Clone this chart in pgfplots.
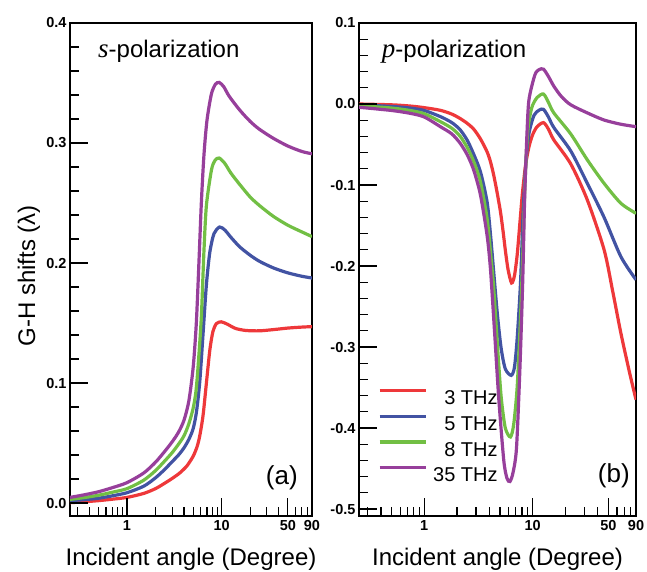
\documentclass[border=0pt]{standalone}
\usepackage{fontspec}
\setmainfont{Liberation Sans}
\newfontfamily\timesit{Liberation Serif}
\usepackage{pgfplots}
\pgfplotsset{compat=1.18}

\definecolor{cred}{RGB}{238,56,58}
\definecolor{cblue}{RGB}{66,83,163}
\definecolor{cgreen}{RGB}{114,191,68}
\definecolor{cpurple}{RGB}{151,63,155}

\tikzset{tk/.style={line width=1.3pt, black}}

\pgfplotsset{
  ghaxis/.style={
    scale only axis,
    height=493pt,
    xmin=0.25, xmax=90,
    axis line style={line width=1.2pt},
    tick style={line width=1.3pt, black},
    tick align=inside, xtick pos=bottom, ytick pos=left,
    xtick={1,10,50,90}, xticklabels={1,10,50,90},
    minor xtick={0.3,0.4,0.5,0.6,0.7,0.8,0.9,2,3,4,5,6,7,8,9,20,30,40,60,70,80},
    minor y tick num=4,
    tick label style={font=\fontsize{14.5}{16}\selectfont\bfseries},
    xticklabel style={yshift=-1pt},
    xlabel={Incident angle (Degree)},
    xlabel style={font=\fontsize{24}{26}\selectfont, at={(axis description cs:0.5,0)}, anchor=base, yshift=-49pt},
    every axis plot/.append style={line width=3.2pt, smooth, tension=0.45},
  },
}

\begin{document}
\begin{tikzpicture}
\path[use as bounding box] (-70pt,-55pt) rectangle (577pt,516pt);

% (a) s-polarization
\begin{semilogxaxis}[ghaxis,
    width=242pt,
    ymin=-0.0108, ymax=0.4,
    ytick={0,0.1,0.2,0.3,0.4},
    yticklabels={0.0,0.1,0.2,0.3,0.4},
    ylabel={G-H shifts (λ)},
    ylabel style={font=\fontsize{24}{26}\selectfont, rotate=0, at={(axis description cs:-0.1446,0.487)}, anchor=base},
]
\addplot[cred] coordinates {(0.25,0.0003)(0.35,0.0010)(0.5,0.002)(0.7,0.0032)(1,0.0047)(1.5,0.008)(2,0.012)(2.5,0.0165)(3,0.0205)(3.6,0.025)(4.3,0.031)(5,0.039)(5.5,0.047)(5.87,0.056)(6.36,0.073)(6.9,0.100)(7.5,0.1275)(8.09,0.143)(8.8,0.1495)(9.9,0.151)(11.5,0.149)(14,0.1455)(18,0.1438)(25,0.1435)(35,0.1445)(50,0.1458)(70,0.1466)(90,0.147)};
\addplot[cblue] coordinates {(0.25,0.002)(0.35,0.0028)(0.5,0.004)(0.7,0.006)(1,0.0086)(1.5,0.014)(2,0.021)(2.5,0.028)(3,0.0345)(3.5,0.040)(4,0.046)(4.5,0.053)(5,0.062)(5.42,0.076)(5.87,0.101)(6.36,0.141)(6.9,0.182)(7.5,0.209)(8.3,0.2245)(9.5,0.230)(10.8,0.2275)(12.5,0.2215)(15.5,0.2135)(20,0.2065)(25,0.2015)(35,0.196)(50,0.1918)(70,0.189)(90,0.1875)};
\addplot[cgreen] coordinates {(0.25,0.003)(0.35,0.0045)(0.5,0.0065)(0.7,0.009)(1,0.012)(1.5,0.019)(2,0.027)(2.5,0.035)(3,0.042)(3.5,0.049)(4,0.056)(4.5,0.066)(5,0.079)(5.35,0.093)(5.65,0.115)(6.1,0.155)(6.5,0.21)(6.9,0.248)(7.8,0.2775)(8.5,0.2855)(9.4,0.2875)(10.8,0.283)(12.5,0.275)(15.5,0.2655)(20,0.255)(25,0.248)(35,0.239)(50,0.2315)(70,0.226)(90,0.222)};
\addplot[cpurple] coordinates {(0.25,0.0047)(0.35,0.0068)(0.5,0.0094)(0.7,0.0128)(1,0.017)(1.5,0.025)(2,0.034)(2.5,0.043)(3,0.051)(3.5,0.059)(4,0.069)(4.5,0.085)(5,0.113)(5.4,0.150)(5.75,0.200)(6.1,0.250)(6.5,0.290)(7,0.319)(7.8,0.341)(8.6,0.349)(9.4,0.3505)(10.5,0.347)(12,0.339)(15.5,0.3275)(20,0.318)(25,0.3115)(35,0.304)(50,0.2975)(70,0.293)(90,0.291)};
% long inward ticks as in the original
\pgfplotsinvokeforeach{0,0.1,0.2,0.3}{\draw[tk] (axis cs:0.25,#1) -- ++(18pt,0pt);}
\pgfplotsinvokeforeach{0.02,0.04,0.06,0.08,0.12,0.14,0.16,0.18,0.22,0.24,0.26,0.28,0.32,0.34,0.36,0.38}{\draw[tk] (axis cs:0.25,#1) -- ++(9pt,0pt);}
\pgfplotsinvokeforeach{1,10,50}{\draw[tk] (axis cs:#1,-0.0108) -- ++(0pt,18pt);}
\pgfplotsinvokeforeach{0.3,0.4,0.5,0.6,0.7,0.8,0.9,2,3,4,5,6,7,8,9,20,30,40,60,70,80}{\draw[tk] (axis cs:#1,-0.0108) -- ++(0pt,9pt);}
\node[anchor=base west, font=\fontsize{24}{26}\selectfont, inner sep=0pt] at (axis description cs:0.1157,0.931) {{\timesit\itshape\fontsize{27}{28}\selectfont s}-polarization};
\node[anchor=base east, font=\fontsize{26}{28}\selectfont, inner sep=0pt] at (axis description cs:0.942,0.0629) {(a)};
\end{semilogxaxis}

% (b) p-polarization
\begin{semilogxaxis}[ghaxis,
    at={(289pt,0pt)},
    width=277pt,
    ymin=-0.5086, ymax=0.1,
    ytick={-0.5,-0.4,-0.3,-0.2,-0.1,0,0.1},
    yticklabels={-0.5,-0.4,-0.3,-0.2,-0.1,0.0,0.1},
    legend cell align=right,
    legend style={at={(axis description cs:0.0686,0.2571)}, anchor=north west,
      draw=none, fill=none, inner sep=0pt, outer sep=0pt, row sep=10pt,
      font=\fontsize{20}{20}\selectfont,
      nodes={inner sep=0pt, text height=14pt, text depth=0pt},
      /tikz/every odd column/.append style={column sep=6pt}},
    legend image code/.code={\draw[#1] (0pt,7pt) -- (46pt,7pt);},
]
\addplot[cred] coordinates {(0.25,0.0)(0.5,-0.001)(0.74,-0.0025)(1,-0.0045)(1.41,-0.0078)(1.8,-0.0125)(2.15,-0.018)(2.5,-0.024)(2.86,-0.031)(3.3,-0.043)(3.8,-0.059)(4.08,-0.071)(4.38,-0.088)(4.7,-0.109)(5.05,-0.133)(5.35,-0.158)(5.62,-0.182)(5.95,-0.205)(6.4,-0.221)(6.8,-0.212)(7.21,-0.186)(7.6,-0.150)(8.03,-0.112)(8.6,-0.076)(9.25,-0.053)(10,-0.038)(11,-0.028)(12.6,-0.023)(14,-0.031)(15.7,-0.0444)(22.5,-0.074)(32,-0.1185)(45.7,-0.180)(55,-0.232)(65.3,-0.283)(78,-0.330)(90,-0.365)};
\addplot[cblue] coordinates {(0.25,-0.001)(0.5,-0.003)(0.74,-0.005)(1,-0.008)(1.41,-0.0156)(1.8,-0.023)(2.15,-0.032)(2.5,-0.045)(2.86,-0.062)(3.3,-0.0836)(3.8,-0.1206)(4.08,-0.160)(4.38,-0.208)(4.75,-0.262)(5.13,-0.302)(5.6,-0.327)(6.35,-0.335)(6.8,-0.325)(7.2,-0.29)(7.74,-0.22)(8.2,-0.13)(8.7,-0.07)(9.3,-0.035)(10.3,-0.014)(11.5,-0.0075)(12.6,-0.0066)(14,-0.016)(15.7,-0.029)(22.5,-0.058)(32,-0.098)(45.7,-0.140)(65.3,-0.1885)(90,-0.217)};
\addplot[cgreen] coordinates {(0.25,-0.002)(0.5,-0.005)(0.74,-0.008)(1,-0.012)(1.41,-0.0218)(1.8,-0.030)(2.15,-0.040)(2.5,-0.054)(2.86,-0.071)(3.3,-0.096)(3.8,-0.141)(4.08,-0.182)(4.38,-0.228)(4.75,-0.30)(5.13,-0.362)(5.6,-0.400)(6.25,-0.411)(6.7,-0.395)(7.2,-0.35)(7.7,-0.27)(8.1,-0.19)(8.5,-0.10)(9.0,-0.035)(9.8,-0.005)(11,0.008)(12.6,0.0123)(14,0.002)(15.7,-0.011)(22.5,-0.037)(32,-0.069)(45.7,-0.098)(65.3,-0.1226)(90,-0.135)};
\addplot[cpurple] coordinates {(0.25,-0.004)(0.5,-0.008)(0.74,-0.0115)(1,-0.016)(1.41,-0.028)(1.8,-0.037)(2.15,-0.0486)(2.5,-0.063)(2.86,-0.0815)(3.3,-0.112)(3.8,-0.162)(4.08,-0.203)(4.45,-0.28)(4.88,-0.365)(5.42,-0.440)(5.8,-0.462)(6.18,-0.466)(6.6,-0.455)(7.1,-0.425)(7.62,-0.33)(8.1,-0.22)(8.43,-0.12)(8.85,-0.04)(9.25,0.005)(10.5,0.036)(11.5,0.0425)(12.6,0.043)(14,0.034)(15.7,0.022)(18.5,0.009)(22.5,-0.001)(32,-0.011)(45.7,-0.0198)(65.3,-0.025)(90,-0.028)};
\legend{3 THz, 5 THz, 8 THz, 35 THz}
\pgfplotsinvokeforeach{-0.5,-0.4,-0.3,-0.2,-0.1,0}{\draw[tk] (axis cs:0.25,#1) -- ++(18pt,0pt);}
\pgfplotsinvokeforeach{-0.48,-0.46,-0.44,-0.42,-0.38,-0.36,-0.34,-0.32,-0.28,-0.26,-0.24,-0.22,-0.18,-0.16,-0.14,-0.12,-0.08,-0.06,-0.04,-0.02,0.02,0.04,0.06,0.08}{\draw[tk] (axis cs:0.25,#1) -- ++(9pt,0pt);}
\pgfplotsinvokeforeach{1,10,50}{\draw[tk] (axis cs:#1,-0.5086) -- ++(0pt,18pt);}
\pgfplotsinvokeforeach{0.3,0.4,0.5,0.6,0.7,0.8,0.9,2,3,4,5,6,7,8,9,20,30,40,60,70,80}{\draw[tk] (axis cs:#1,-0.5086) -- ++(0pt,9pt);}
\node[anchor=base west, font=\fontsize{24}{26}\selectfont, inner sep=0pt] at (axis description cs:0.082,0.931) {{\timesit\itshape\fontsize{27}{28}\selectfont p}-polarization};
\node[anchor=base east, font=\fontsize{26}{28}\selectfont, inner sep=0pt] at (axis description cs:0.978,0.067) {(b)};
\end{semilogxaxis}
\end{tikzpicture}
\end{document}
